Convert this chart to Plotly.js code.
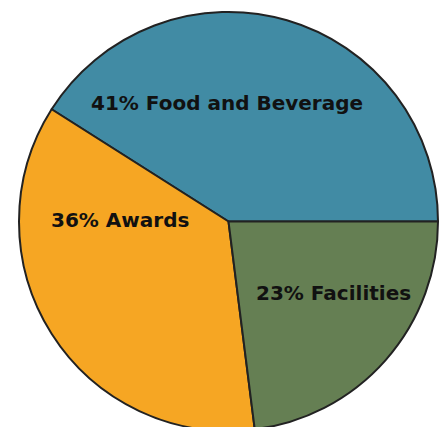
<!DOCTYPE html>
<html>
<head>
<meta charset="utf-8">
<script src="https://cdn.plot.ly/plotly-3.0.1.min.js"></script>
<style>html,body{margin:0;padding:0;background:#fff;overflow:hidden}</style>
</head>
<body>
<div id="chart"></div>
<script>
const categories = ["Food and Beverage", "Awards", "Facilities"];
const shares = [41, 36, 23];
const colors = ["#418ba4", "#f6a623", "#657f53"];
// label anchor positions (paper fractions)
const labelX = [0.496, 0.240, 0.751];
const labelY = [0.783, 0.504, 0.330];

const trace = {
  type: "pie",
  labels: categories,
  values: shares,
  sort: false,
  direction: "counterclockwise",
  rotation: -57.6,
  marker: {colors: colors, line: {color: "#222222", width: 2}},
  textinfo: "none",
  hoverinfo: "none",
  showlegend: false
};

const annotations = categories.map((c, i) => ({
  text: shares[i] + "% " + c,
  x: labelX[i], y: labelY[i], xref: "paper", yref: "paper",
  xanchor: "center", yanchor: "middle", showarrow: false,
  font: {family: "DejaVu Sans, sans-serif", size: 20, color: "#111111", weight: "bold"}
}));

const layout = {
  width: 445, height: 431,
  margin: {l: 19, r: 7, t: 12, b: 0},
  paper_bgcolor: "#ffffff",
  showlegend: false,
  annotations: annotations
};

Plotly.newPlot("chart", [trace], layout, {displayModeBar: false, staticPlot: true});
</script>
</body>
</html>
